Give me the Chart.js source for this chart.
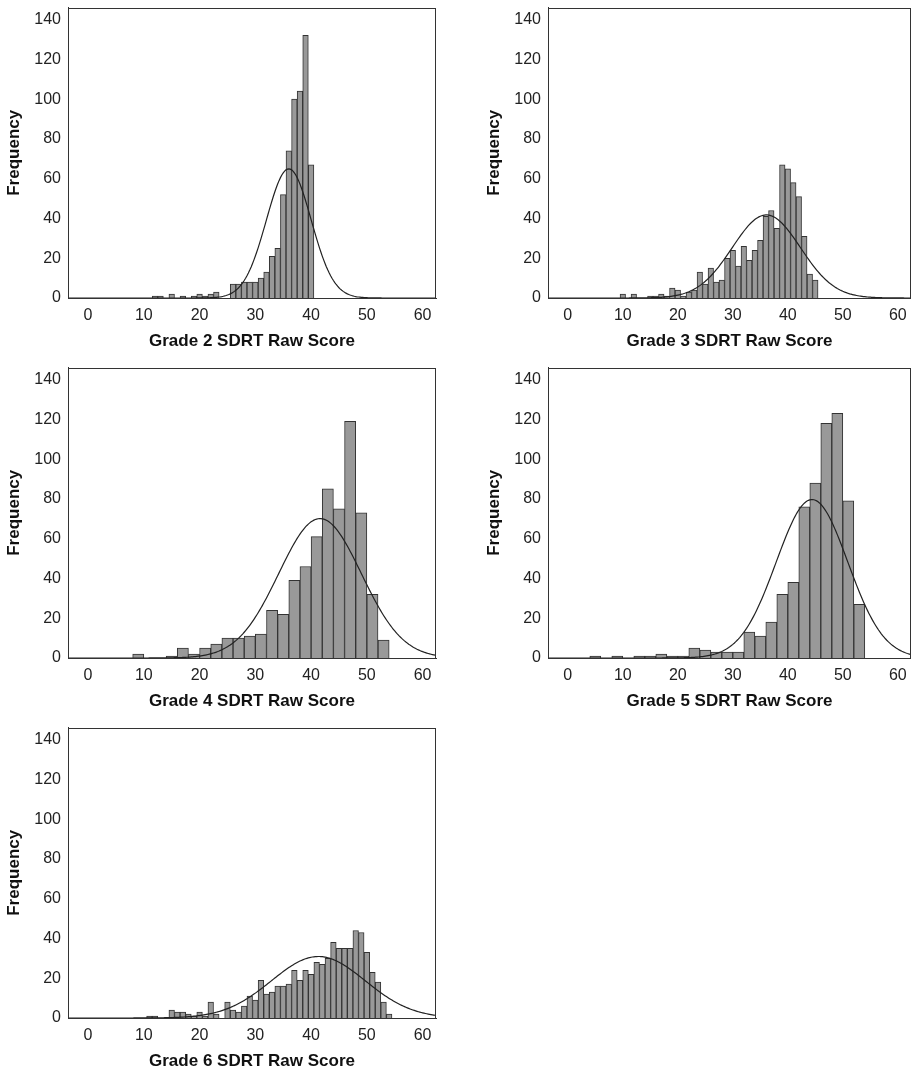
<!DOCTYPE html>
<html><head><meta charset="utf-8">
<script src="https://cdn.jsdelivr.net/npm/chart.js@4/dist/chart.umd.min.js"></script>
<style>body{margin:0;background:#fff;width:911px;height:1074px;position:relative;overflow:hidden}
.p{position:absolute;height:360px}</style></head><body>
<div class="p" style="left:0;top:-4px;width:440px"><canvas id="c2"></canvas></div>
<div class="p" style="left:480px;top:-4px;width:431px"><canvas id="c3"></canvas></div>
<div class="p" style="left:0;top:356px;width:440px"><canvas id="c4"></canvas></div>
<div class="p" style="left:480px;top:356px;width:431px"><canvas id="c5"></canvas></div>
<div class="p" style="left:0;top:716px;width:440px"><canvas id="c6"></canvas></div>
<script>
// Grade 2 (bin width 1, centres)
const g2Bins=[12,13,15,17,19,20,21,22,23,24,25,26,27,28,29,30,31,32,33,34,35,36,37,38,39,40];
const g2Freq=[1,1,2,1,1,2,1,2,3,0,0,7,7,8,8,8,10,13,21,25,52,74,100,104,132,67];
const g2Fit={mean:36,sd:4.0,n:651,bw:1};
// Grade 3
const g3Bins=[10,11,12,13,14,15,16,17,18,19,20,21,22,23,24,25,26,27,28,29,30,31,32,33,34,35,36,37,38,39,40,41,42,43,44,45];
const g3Freq=[2,0,2,0,0,1,1,2,1,5,4,1,3,4,13,7,15,8,9,20,24,16,26,19,24,29,41,44,35,67,65,58,51,31,12,9];
const g3Fit={mean:36.1,sd:6.2,n:649,bw:1};
// Grade 4 (bin width 2)
const g4Bins=[9,11,13,15,17,19,21,23,25,27,29,31,33,35,37,39,41,43,45,47,49,51,53];
const g4Freq=[2,0,0,1,5,2,5,7,10,10,11,12,24,22,39,46,61,85,75,119,73,32,9];
const g4Fit={mean:41.6,sd:7.4,n:650,bw:2};
// Grade 5 (bin width 2)
const g5Bins=[5,7,9,11,13,15,17,19,21,23,25,27,29,31,33,35,37,39,41,43,45,47,49,51,53];
const g5Freq=[1,0,1,0,1,1,2,1,1,5,4,3,3,3,13,11,18,32,38,76,88,118,123,79,27];
const g5Fit={mean:44.4,sd:6.5,n:649,bw:2};
// Grade 6 (bin width 1)
const g6Bins=[11,12,13,14,15,16,17,18,19,20,21,22,23,24,25,26,27,28,29,30,31,32,33,34,35,36,37,38,39,40,41,42,43,44,45,46,47,48,49,50,51,52,53,54];
const g6Freq=[1,1,0,0,4,3,3,2,1,3,1,8,2,0,8,4,3,6,11,9,19,12,13,16,16,17,24,19,24,22,28,27,30,38,35,35,35,44,43,33,23,18,8,2];
const g6Fit={mean:41.3,sd:8.4,n:651,bw:1};
const xTicks=[0,10,20,30,40,50,60];
const yTicks=[0,20,40,60,80,100,120,140];

const frame={id:'frame',afterDraw(c){const a=c.chartArea,x=c.ctx;x.save();x.strokeStyle='#333';x.lineWidth=1;x.strokeRect(Math.round(a.left)+0.5,Math.round(a.top)+0.5,Math.round(a.right-a.left)-1,Math.round(a.bottom-a.top));x.restore();}};
function curve(f){const pts=[];for(let x=-4;x<=63;x+=0.25){pts.push({x,y:f.n*f.bw*Math.exp(-0.5*((x-f.mean)/f.sd)**2)/(f.sd*Math.sqrt(2*Math.PI))});}return pts;}
function make(id,bins,freq,fit,label,right){
  new Chart(document.getElementById(id),{
    data:{datasets:[
      {type:'line',data:curve(fit),borderColor:'#222',borderWidth:1.2,pointRadius:0,fill:false,order:0},
      {type:'bar',data:bins.map((b,i)=>({x:b,y:freq[i]})),backgroundColor:'#999999',borderColor:'#333',borderWidth:1,barPercentage:1,categoryPercentage:1,order:1}
    ]},
    options:{responsive:true,maintainAspectRatio:false,animation:false,
      layout:{padding:{top:0,right:right,left:0,bottom:0}},
      plugins:{legend:{display:false},tooltip:{enabled:false}},
      scales:{
        x:{type:'linear',offset:false,min:-3.6,max:62.4,afterBuildTicks:s=>{s.ticks=xTicks.map(v=>({value:v}));},
          afterFit:s=>{s.height=58;},
          grid:{display:false,drawTicks:true,tickLength:6,color:'#333'},border:{color:'#333'},
          ticks:{color:'#222',font:{family:'Liberation Sans',size:16},padding:2,maxRotation:0},
          title:{display:true,text:label,color:'#111',font:{family:'Liberation Sans',size:17,weight:'bold'},padding:{top:0}}},
        y:{min:0,max:146,afterBuildTicks:s=>{s.ticks=yTicks.map(v=>({value:v}));},
          afterFit:s=>{s.width=68;},
          grid:{display:false,tickLength:5,color:'#333'},border:{color:'#333'},
          ticks:{color:'#222',font:{family:'Liberation Sans',size:16},padding:2},
          title:{display:true,text:'Frequency',color:'#111',font:{family:'Liberation Sans',size:17,weight:'bold'},padding:{bottom:0}}}
      }},
    plugins:[frame]});
}
make('c2',g2Bins,g2Freq,g2Fit,'Grade 2 SDRT Raw Score',4);
make('c3',g3Bins,g3Freq,g3Fit,'Grade 3 SDRT Raw Score',0);
make('c4',g4Bins,g4Freq,g4Fit,'Grade 4 SDRT Raw Score',4);
make('c5',g5Bins,g5Freq,g5Fit,'Grade 5 SDRT Raw Score',0);
make('c6',g6Bins,g6Freq,g6Fit,'Grade 6 SDRT Raw Score',4);
</script></body></html>
